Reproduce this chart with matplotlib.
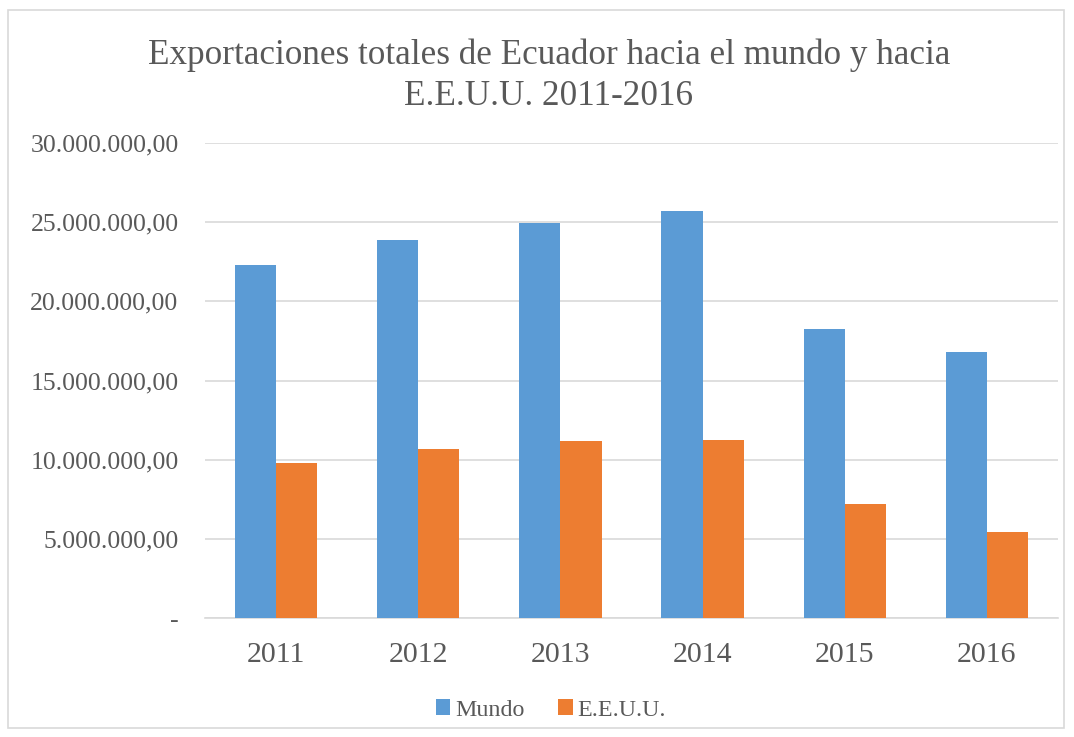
import matplotlib
matplotlib.use("Agg")
import matplotlib.pyplot as plt
import numpy as np
from matplotlib.patches import Rectangle

years = ["2011", "2012", "2013", "2014", "2015", "2016"]
mundo = [22320000, 23850000, 24960000, 25730000, 18260000, 16800000]
eeuu = [9790000, 10680000, 11180000, 11240000, 7200000, 5430000]
yticks = [0, 5000000, 10000000, 15000000, 20000000, 25000000, 30000000]

plt.rcParams['font.family'] = ['Liberation Serif', 'DejaVu Serif']
txt = '#595959'

fig = plt.figure(figsize=(10.74, 7.37), dpi=100)
ax = fig.add_axes([205/1074, 1-618/737, (1058-205)/1074, (618-143)/737])
fig.patches.append(Rectangle((8/1074, 1-728/737), (1064-8)/1074, (728-10)/737,
                             transform=fig.transFigure, fill=False, ec='#d9d9d9', lw=1.2))

x = np.arange(len(years))
w = 0.29
ax.bar(x - w/2, mundo, w, color='#5B9BD5', label='Mundo', zorder=3)
ax.bar(x + w/2, eeuu, w, color='#ED7D31', label='E.E.U.U.', zorder=3)

ax.set_xlim(-0.5, len(years) - 0.5)
ax.set_ylim(0, 30000000)
ax.set_yticks(yticks)
def fmt(v):
    if v == 0:
        return '-'
    s = f"{int(v):,}".replace(',', '.')
    return s + ',00'
ax.set_yticklabels([fmt(v) for v in yticks])
ax.set_xticks(x)
ax.set_xticklabels(years)
ax.tick_params(axis='y', length=0, labelsize=18.5, colors=txt, pad=19)
ax.tick_params(axis='x', length=0, labelsize=21.5, colors=txt, pad=17)
ax.grid(axis='y', color='#d9d9d9', lw=1.2, zorder=0)
for s in ['top', 'right', 'left']:
    ax.spines[s].set_visible(False)
ax.spines['bottom'].set_color('#d9d9d9')
ax.spines['bottom'].set_linewidth(1.2)

fig.text(549/1074, 1-76/737, "Exportaciones totales de Ecuador hacia el mundo y hacia\nE.E.U.U. 2011-2016",
         ha='center', va='center', fontsize=25.3, color=txt, linespacing=1.3)

leg = fig.legend(loc='center', bbox_to_anchor=(551/1074, 1-710/737), ncol=2, frameon=False,
                 fontsize=17.3, handlelength=0.6, handleheight=0.6, handletextpad=0.2,
                 columnspacing=1.4, labelcolor=txt)

fig.savefig('out.png', dpi=100)
